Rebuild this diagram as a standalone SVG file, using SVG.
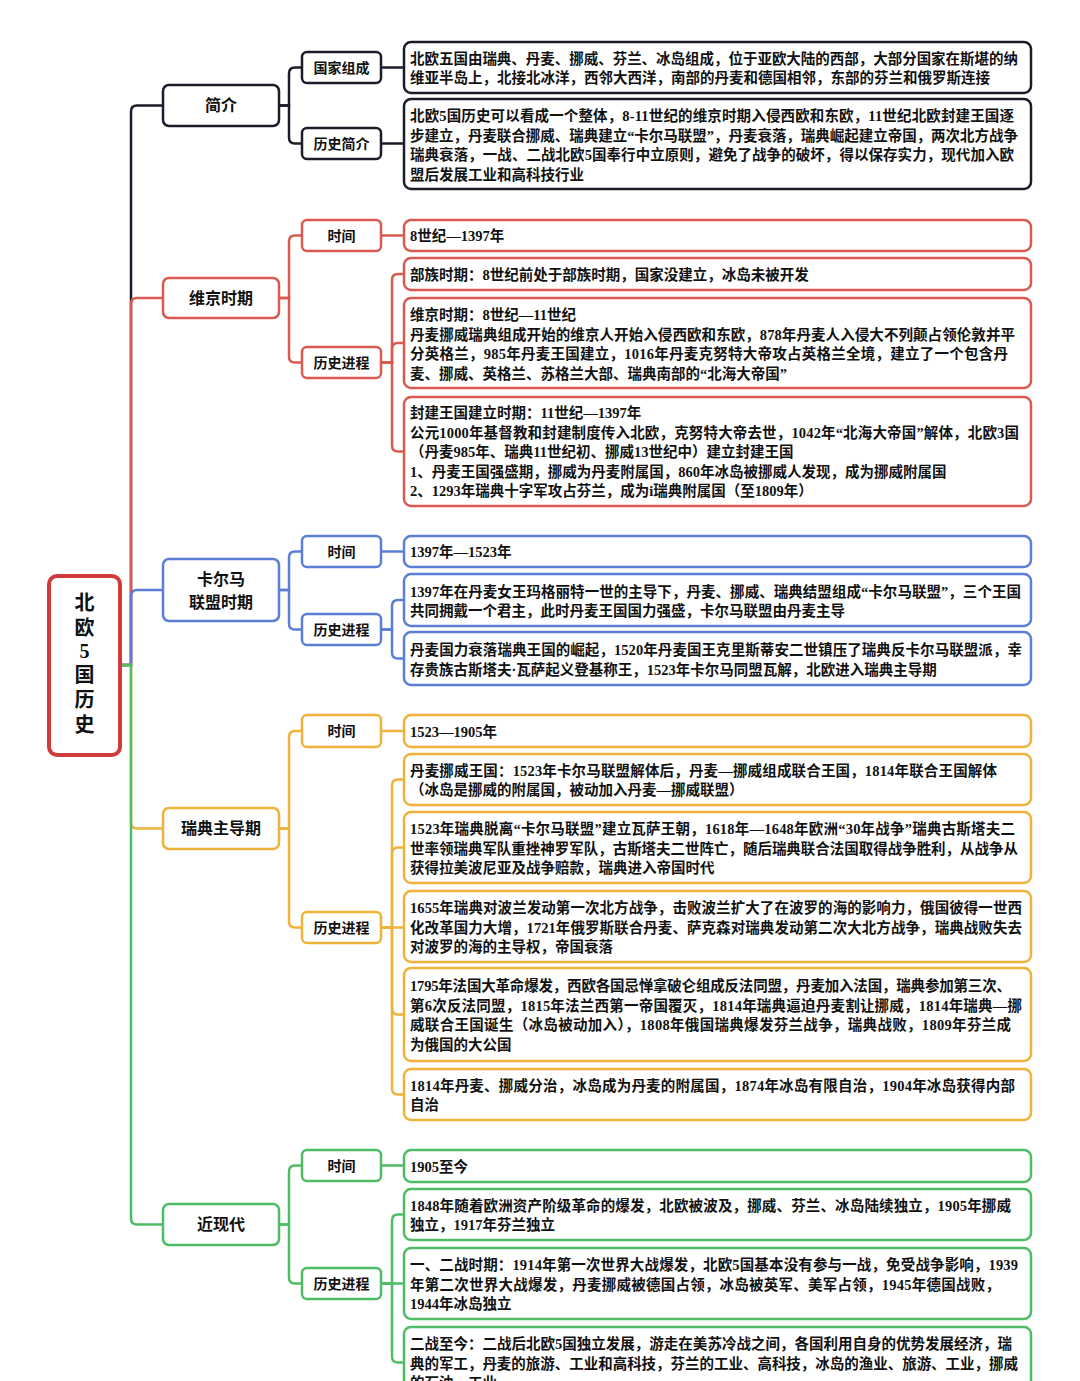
<svg xmlns="http://www.w3.org/2000/svg" width="1080" height="1381" viewBox="0 0 1080 1381">
<style>
.bg{fill:#ffffff}
.box{fill:#ffffff;stroke-width:2.5}
.k{stroke:#1c1c2a}.r{stroke:#d95a50}.b{stroke:#5b7fd5}.o{stroke:#efb23a}.g{stroke:#4fbd66}
.c{fill:none;stroke-width:2.5}
.t3{font-family:"Liberation Serif","Noto Sans CJK SC",serif;font-size:14.5px;font-weight:700;fill:#111111}
.n1{font-family:"Noto Sans CJK SC",sans-serif;font-size:16px;font-weight:700;fill:#111111;text-anchor:middle}
.n2{font-family:"Noto Sans CJK SC",sans-serif;font-size:14px;font-weight:700;fill:#111111;text-anchor:middle}
.rt{font-family:"Liberation Serif","Noto Sans CJK SC",sans-serif;font-size:20px;font-weight:700;fill:#111111;text-anchor:middle}
</style>
<rect class="bg" x="0" y="0" width="1080" height="1381"/>

<g id="connectors">
  <path class="c k" d="M120 665 H131 V111.5 Q131 105.5 137 105.5 H163"/>
  <path class="c r" d="M120 665 H131 V304 Q131 298 137 298 H163"/>
  <path class="c b" d="M120 665 H131 V596 Q131 590 137 590 H163"/>
  <path class="c o" d="M120 665 H131 V822.5 Q131 828.5 137 828.5 H163"/>
  <path class="c g" d="M120 665 H131 V1218.5 Q131 1224.5 137 1224.5 H163"/>
  <path class="c k" d="M279 105.5 H289 V73.5 Q289 67.5 295 67.5 H302"/>
  <path class="c k" d="M279 105.5 H289 V137.5 Q289 143.5 295 143.5 H302"/>
  <path class="c r" d="M279 298 H289 V241.5 Q289 235.5 295 235.5 H302"/>
  <path class="c r" d="M279 298 H289 V356.5 Q289 362.5 295 362.5 H302"/>
  <path class="c b" d="M279 590 H289 V557.5 Q289 551.5 295 551.5 H302"/>
  <path class="c b" d="M279 590 H289 V623.5 Q289 629.5 295 629.5 H302"/>
  <path class="c o" d="M279 828.5 H289 V737 Q289 731 295 731 H302"/>
  <path class="c o" d="M279 828.5 H289 V921.5 Q289 927.5 295 927.5 H302"/>
  <path class="c g" d="M279 1224.5 H289 V1171.5 Q289 1165.5 295 1165.5 H302"/>
  <path class="c g" d="M279 1224.5 H289 V1277.5 Q289 1283.5 295 1283.5 H302"/>
  <path class="c k" d="M381 67.5 H404"/>
  <path class="c k" d="M381 143.5 H404"/>
  <path class="c r" d="M381 235.5 H404"/>
  <path class="c r" d="M381 362.5 H392 V280 Q392 274 398 274 H404"/>
  <path class="c r" d="M381 362.5 H392 V349 Q392 343 398 343 H404"/>
  <path class="c r" d="M381 362.5 H392 V445.5 Q392 451.5 398 451.5 H404"/>
  <path class="c b" d="M381 551.5 H404"/>
  <path class="c b" d="M381 629.5 H392 V606 Q392 600 398 600 H404"/>
  <path class="c b" d="M381 629.5 H392 V652.5 Q392 658.5 398 658.5 H404"/>
  <path class="c o" d="M381 731 H404"/>
  <path class="c o" d="M381 927.5 H392 V785.5 Q392 779.5 398 779.5 H404"/>
  <path class="c o" d="M381 927.5 H392 V853.5 Q392 847.5 398 847.5 H404"/>
  <path class="c o" d="M381 927.5 H404"/>
  <path class="c o" d="M381 927.5 H392 V1008.5 Q392 1014.5 398 1014.5 H404"/>
  <path class="c o" d="M381 927.5 H392 V1088.5 Q392 1094.5 398 1094.5 H404"/>
  <path class="c g" d="M381 1165.5 H404"/>
  <path class="c g" d="M381 1283.5 H392 V1220.5 Q392 1214.5 398 1214.5 H404"/>
  <path class="c g" d="M381 1283.5 H404"/>
  <path class="c g" d="M381 1283.5 H392 V1356.5 Q392 1362.5 398 1362.5 H404"/>
</g>

<g id="root">
  <rect x="49" y="576" width="71" height="179" rx="8" fill="#ffffff" stroke="#cf3b3b" stroke-width="4"/>
  <text class="rt" x="84.5" y="610">北</text>
  <text class="rt" x="84.5" y="635">欧</text>
  <text class="rt" x="84.5" y="658" font-weight="400">5</text>
  <text class="rt" x="84.5" y="682">国</text>
  <text class="rt" x="84.5" y="707">历</text>
  <text class="rt" x="84.5" y="732">史</text>
</g>

<g id="n-jianjie"><rect class="box k" x="163" y="85" width="116" height="41" rx="6"/><text class="n1" x="221" y="111">简介</text></g>
<g id="n-weijing"><rect class="box r" x="163" y="278" width="116" height="40" rx="6"/><text class="n1" x="221" y="303.5">维京时期</text></g>
<g id="n-kaerma"><rect class="box b" x="163" y="559" width="116" height="62" rx="6"/><text class="n1" x="221" y="585" font-size="15.5px">卡尔马</text><text class="n1" x="221" y="607.5" font-size="15.5px">联盟时期</text></g>
<g id="n-ruidian"><rect class="box o" x="163" y="808" width="116" height="41" rx="6"/><text class="n1" x="221" y="834">瑞典主导期</text></g>
<g id="n-jinxiandai"><rect class="box g" x="163" y="1204" width="116" height="41" rx="6"/><text class="n1" x="221" y="1230">近现代</text></g>

<g id="n-guojia"><rect class="box k" x="302" y="52" width="79" height="31" rx="5"/><text class="n2" x="341.5" y="72.5">国家组成</text></g>
<g id="n-lishijianjie"><rect class="box k" x="302" y="128" width="79" height="31" rx="5"/><text class="n2" x="341.5" y="148.5">历史简介</text></g>
<g id="n-wj-time"><rect class="box r" x="302" y="220" width="79" height="31" rx="5"/><text class="n2" x="341.5" y="240.5">时间</text></g>
<g id="n-wj-hist"><rect class="box r" x="302" y="347" width="79" height="31" rx="5"/><text class="n2" x="341.5" y="367.5">历史进程</text></g>
<g id="n-km-time"><rect class="box b" x="302" y="536" width="79" height="31" rx="5"/><text class="n2" x="341.5" y="556.5">时间</text></g>
<g id="n-km-hist"><rect class="box b" x="302" y="614" width="79" height="31" rx="5"/><text class="n2" x="341.5" y="634.5">历史进程</text></g>
<g id="n-rd-time"><rect class="box o" x="302" y="715" width="79" height="32" rx="5"/><text class="n2" x="341.5" y="736">时间</text></g>
<g id="n-rd-hist"><rect class="box o" x="302" y="912" width="79" height="31" rx="5"/><text class="n2" x="341.5" y="932.5">历史进程</text></g>
<g id="n-jx-time"><rect class="box g" x="302" y="1150" width="79" height="31" rx="5"/><text class="n2" x="341.5" y="1170.5">时间</text></g>
<g id="n-jx-hist"><rect class="box g" x="302" y="1268" width="79" height="31" rx="5"/><text class="n2" x="341.5" y="1288.5">历史进程</text></g>

<g id="b1"><rect class="box k" x="404" y="42" width="627" height="51" rx="7"/>
  <text class="t3" x="410" y="64" textLength="608" lengthAdjust="spacing">北欧五国由瑞典、丹麦、挪威、芬兰、冰岛组成，位于亚欧大陆的西部，大部分国家在斯堪的纳</text>
  <text class="t3" x="410" y="83">维亚半岛上，北接北冰洋，西邻大西洋，南部的丹麦和德国相邻，东部的芬兰和俄罗斯连接</text></g>
<g id="b2"><rect class="box k" x="404" y="99" width="627" height="90" rx="7"/>
  <text class="t3" x="410" y="121" textLength="604" lengthAdjust="spacing">北欧5国历史可以看成一个整体，8-11世纪的维京时期入侵西欧和东欧，11世纪北欧封建王国逐</text>
  <text class="t3" x="410" y="140.5" textLength="608" lengthAdjust="spacing">步建立，丹麦联合挪威、瑞典建立“卡尔马联盟”，丹麦衰落，瑞典崛起建立帝国，两次北方战争</text>
  <text class="t3" x="410" y="160" textLength="604" lengthAdjust="spacing">瑞典衰落，一战、二战北欧5国奉行中立原则，避免了战争的破坏，得以保存实力，现代加入欧</text>
  <text class="t3" x="410" y="179.5">盟后发展工业和高科技行业</text></g>
<g id="b3"><rect class="box r" x="404" y="220" width="627" height="31" rx="7"/>
  <text class="t3" x="410" y="241">8世纪—1397年</text></g>
<g id="b4"><rect class="box r" x="404" y="258" width="627" height="32" rx="7"/>
  <text class="t3" x="410" y="279.5">部族时期：8世纪前处于部族时期，国家没建立，冰岛未被开发</text></g>
<g id="b5"><rect class="box r" x="404" y="298" width="627" height="90" rx="7"/>
  <text class="t3" x="410" y="320">维京时期：8世纪—11世纪</text>
  <text class="t3" x="410" y="339.5" textLength="605" lengthAdjust="spacing">丹麦挪威瑞典组成开始的维京人开始入侵西欧和东欧，878年丹麦人入侵大不列颠占领伦敦并平</text>
  <text class="t3" x="410" y="359" textLength="598" lengthAdjust="spacing">分英格兰，985年丹麦王国建立，1016年丹麦克努特大帝攻占英格兰全境，建立了一个包含丹</text>
  <text class="t3" x="410" y="378.5">麦、挪威、英格兰、苏格兰大部、瑞典南部的“北海大帝国”</text></g>
<g id="b6"><rect class="box r" x="404" y="397" width="627" height="109" rx="7"/>
  <text class="t3" x="410" y="418">封建王国建立时期：11世纪—1397年</text>
  <text class="t3" x="410" y="437.5" textLength="609" lengthAdjust="spacing">公元1000年基督教和封建制度传入北欧，克努特大帝去世，1042年“北海大帝国”解体，北欧3国</text>
  <text class="t3" x="410" y="457">（丹麦985年、瑞典11世纪初、挪威13世纪中）建立封建王国</text>
  <text class="t3" x="410" y="476.5">1、丹麦王国强盛期，挪威为丹麦附属国，860年冰岛被挪威人发现，成为挪威附属国</text>
  <text class="t3" x="410" y="496">2、1293年瑞典十字军攻占芬兰，成为i瑞典附属国（至1809年）</text></g>
<g id="b7"><rect class="box b" x="404" y="536" width="627" height="31" rx="7"/>
  <text class="t3" x="410" y="557">1397年—1523年</text></g>
<g id="b8"><rect class="box b" x="404" y="574" width="627" height="52" rx="7"/>
  <text class="t3" x="410" y="596.5" textLength="611" lengthAdjust="spacing">1397年在丹麦女王玛格丽特一世的主导下，丹麦、挪威、瑞典结盟组成“卡尔马联盟”，三个王国</text>
  <text class="t3" x="410" y="616">共同拥戴一个君主，此时丹麦王国国力强盛，卡尔马联盟由丹麦主导</text></g>
<g id="b9"><rect class="box b" x="404" y="632" width="627" height="53" rx="7"/>
  <text class="t3" x="410" y="655" textLength="612" lengthAdjust="spacing">丹麦国力衰落瑞典王国的崛起，1520年丹麦国王克里斯蒂安二世镇压了瑞典反卡尔马联盟派，幸</text>
  <text class="t3" x="410" y="674.5">存贵族古斯塔夫·瓦萨起义登基称王，1523年卡尔马同盟瓦解，北欧进入瑞典主导期</text></g>
<g id="b10"><rect class="box o" x="404" y="715" width="627" height="32" rx="7"/>
  <text class="t3" x="410" y="736.5">1523—1905年</text></g>
<g id="b11"><rect class="box o" x="404" y="754" width="627" height="51" rx="7"/>
  <text class="t3" x="410" y="775.5" textLength="587" lengthAdjust="spacing">丹麦挪威王国：1523年卡尔马联盟解体后，丹麦—挪威组成联合王国，1814年联合王国解体</text>
  <text class="t3" x="410" y="795">（冰岛是挪威的附属国，被动加入丹麦—挪威联盟）</text></g>
<g id="b12"><rect class="box o" x="404" y="812" width="627" height="71" rx="7"/>
  <text class="t3" x="410" y="834" textLength="605" lengthAdjust="spacing">1523年瑞典脱离“卡尔马联盟”建立瓦萨王朝，1618年—1648年欧洲“30年战争”瑞典古斯塔夫二</text>
  <text class="t3" x="410" y="853.5" textLength="608" lengthAdjust="spacing">世率领瑞典军队重挫神罗军队，古斯塔夫二世阵亡，随后瑞典联合法国取得战争胜利，从战争从</text>
  <text class="t3" x="410" y="873">获得拉美波尼亚及战争赔款，瑞典进入帝国时代</text></g>
<g id="b13"><rect class="box o" x="404" y="891" width="627" height="71" rx="7"/>
  <text class="t3" x="410" y="913" textLength="612" lengthAdjust="spacing">1655年瑞典对波兰发动第一次北方战争，击败波兰扩大了在波罗的海的影响力，俄国彼得一世西</text>
  <text class="t3" x="410" y="932.5" textLength="612" lengthAdjust="spacing">化改革国力大增，1721年俄罗斯联合丹麦、萨克森对瑞典发动第二次大北方战争，瑞典战败失去</text>
  <text class="t3" x="410" y="952">对波罗的海的主导权，帝国衰落</text></g>
<g id="b14"><rect class="box o" x="404" y="968" width="627" height="93" rx="7"/>
  <text class="t3" x="410" y="991" textLength="601" lengthAdjust="spacing">1795年法国大革命爆发，西欧各国忌惮拿破仑组成反法同盟，丹麦加入法国，瑞典参加第三次、</text>
  <text class="t3" x="410" y="1010.5" textLength="612" lengthAdjust="spacing">第6次反法同盟，1815年法兰西第一帝国覆灭，1814年瑞典逼迫丹麦割让挪威，1814年瑞典—挪</text>
  <text class="t3" x="410" y="1030" textLength="601" lengthAdjust="spacing">威联合王国诞生（冰岛被动加入），1808年俄国瑞典爆发芬兰战争，瑞典战败，1809年芬兰成</text>
  <text class="t3" x="410" y="1049.5">为俄国的大公国</text></g>
<g id="b15"><rect class="box o" x="404" y="1069" width="627" height="51" rx="7"/>
  <text class="t3" x="410" y="1090.5" textLength="605" lengthAdjust="spacing">1814年丹麦、挪威分治，冰岛成为丹麦的附属国，1874年冰岛有限自治，1904年冰岛获得内部</text>
  <text class="t3" x="410" y="1110">自治</text></g>
<g id="b16"><rect class="box g" x="404" y="1150" width="627" height="32" rx="7"/>
  <text class="t3" x="410" y="1171.5">1905至今</text></g>
<g id="b17"><rect class="box g" x="404" y="1189" width="627" height="51" rx="7"/>
  <text class="t3" x="410" y="1210.5" textLength="601" lengthAdjust="spacing">1848年随着欧洲资产阶级革命的爆发，北欧被波及，挪威、芬兰、冰岛陆续独立，1905年挪威</text>
  <text class="t3" x="410" y="1230">独立，1917年芬兰独立</text></g>
<g id="b18"><rect class="box g" x="404" y="1248" width="627" height="71" rx="7"/>
  <text class="t3" x="410" y="1270" textLength="608" lengthAdjust="spacing">一、二战时期：1914年第一次世界大战爆发，北欧5国基本没有参与一战，免受战争影响，1939</text>
  <text class="t3" x="410" y="1289.5" textLength="590" lengthAdjust="spacing">年第二次世界大战爆发，丹麦挪威被德国占领，冰岛被英军、美军占领，1945年德国战败，</text>
  <text class="t3" x="410" y="1309">1944年冰岛独立</text></g>
<g id="b19"><rect class="box g" x="404" y="1327" width="627" height="71" rx="7"/>
  <text class="t3" x="410" y="1349" textLength="602" lengthAdjust="spacing">二战至今：二战后北欧5国独立发展，游走在美苏冷战之间，各国利用自身的优势发展经济，瑞</text>
  <text class="t3" x="410" y="1368.5" textLength="608" lengthAdjust="spacing">典的军工，丹麦的旅游、工业和高科技，芬兰的工业、高科技，冰岛的渔业、旅游、工业，挪威</text>
  <text class="t3" x="410" y="1388">的石油、工业</text></g>
</svg>
